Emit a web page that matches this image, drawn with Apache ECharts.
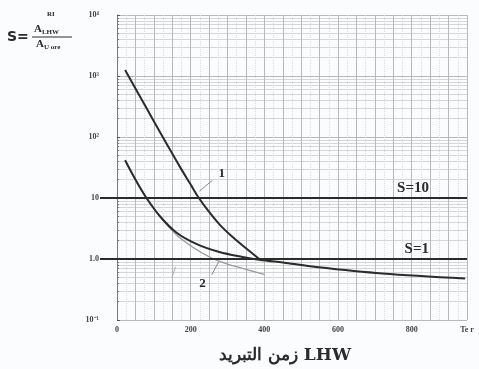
<!DOCTYPE html>
<html>
<head>
<meta charset="utf-8">
<script src="https://cdn.jsdelivr.net/npm/echarts@6/dist/echarts.min.js"></script>
<style>
html, body { margin: 0; padding: 0; background: #fbfcfd; }
#chart1 { width: 479px; height: 369px; }
</style>
</head>
<body>
<div id="chart1"></div>
<script>
// curves: [cooling time, S]
const curve1 = [[22, 1250], [60, 490], [100, 182], [140, 68], [170, 33], [200, 16.6], [219, 10.7], [250, 5.9], [278, 3.7], [310, 2.4], [341, 1.66], [386, 1.0]];
const curve2 = [[22, 41.5], [53, 18.6], [80, 10], [116, 5.07], [161, 2.72], [215, 1.77], [278, 1.3], [341, 1.08], [386, 0.975], [459, 0.86], [540, 0.74], [720, 0.58], [945, 0.48]];
const curve3 = [[22, 41.5], [53, 18.6], [80, 10], [116, 5.0], [161, 2.5], [206, 1.56], [251, 1.08], [296, 0.84], [341, 0.7], [400, 0.56]];
const sLevels = [10, 1];
const sLabels = ['S=10', 'S=1'];
const xMax = 950;
const xLabelStep = 200;
const xEndLabel = 'Te r';
const yTickValues = [0.1, 1, 10, 100, 1000, 10000];
const yTickLabels = ['10⁻¹', '1.0', '10', '10²', '10³', '10⁴'];
const curveNames = ['1', '2'];
const xTitle = 'زمن التبريد LHW';

const chart = echarts.init(document.getElementById('chart1'));
const ink = '#2b2b2b';
const labelFont = 'Liberation Serif';

const option = {
    backgroundColor: '#fbfcfd',
    animation: false,
    grid: [
        { left: 117, right: 12, top: 15, bottom: 49 },
        { left: 100, right: 12, top: 15, bottom: 49 }
    ],
    xAxis: [
        {
            type: 'value', gridIndex: 0, min: 0, max: xMax, interval: 50,
            name: xTitle, nameLocation: 'middle', nameGap: 27,
            nameTextStyle: { fontFamily: 'DejaVu Serif', fontWeight: 'bold', fontSize: 17, color: ink, padding: [0, 14, 0, 0] },
            axisLine: { show: false },
            axisTick: { show: false },
            axisLabel: {
                interval: 0, margin: 6, fontSize: 8, fontWeight: 'bold', fontFamily: labelFont, color: '#444',
                formatter: function (v) {
                    if (v === xMax) return xEndLabel;
                    return v % xLabelStep === 0 ? String(v) : '';
                }
            },
            splitLine: { show: true, lineStyle: { color: '#b9b9b9', width: 1 } },
            minorTick: { show: false, splitNumber: 2 },
            minorSplitLine: { show: true, lineStyle: { color: '#dcdcdc', type: 'dotted', width: 1 } }
        },
        { type: 'value', gridIndex: 1, min: 0, max: 1, show: false }
    ],
    yAxis: [
        {
            type: 'log', gridIndex: 0, logBase: 10, min: 0.1, max: 10000,
            axisLine: { show: true, lineStyle: { color: '#777', width: 1 } },
            axisTick: { show: true, inside: true, length: 3, lineStyle: { color: '#555' } },
            minorTick: { show: true, splitNumber: 9, length: 2, lineStyle: { color: '#777' } },
            axisLabel: {
                margin: 18, fontSize: 8, fontWeight: 'bold', fontFamily: labelFont, color: '#444',
                formatter: function (v) {
                    const i = yTickValues.findIndex(t => Math.abs(Math.log10(t) - Math.log10(v)) < 1e-6);
                    return i >= 0 ? yTickLabels[i] : '';
                }
            },
            splitLine: { show: true, lineStyle: { color: '#b9b9b9', width: 1 } },
            minorSplitLine: { show: true, lineStyle: { color: '#d6d6d6', width: 1 } }
        },
        { type: 'log', gridIndex: 1, logBase: 10, min: 0.1, max: 10000, show: false }
    ],
    graphic: [
        { type: 'text', left: 7, top: 30, style: { text: 'S=', font: 'bold 14px "DejaVu Sans"', fill: ink } },
        { type: 'text', left: 47, top: 11, style: { text: 'RI', font: 'bold 7px "Liberation Serif"', fill: ink } },
        {
            type: 'text', left: 34, top: 24,
            style: {
                text: '{a|A}{s|LHW}',
                rich: { a: { font: 'bold 11px "Liberation Serif"', fill: ink }, s: { font: 'bold 7px "Liberation Serif"', fill: ink, padding: [6, 0, 0, 0] } }
            }
        },
        { type: 'line', shape: { x1: 32, y1: 37, x2: 72, y2: 37 }, style: { stroke: ink, lineWidth: 1 } },
        {
            type: 'text', left: 36, top: 39,
            style: {
                text: '{a|A}{s|U ore}',
                rich: { a: { font: 'bold 11px "Liberation Serif"', fill: ink }, s: { font: 'bold 7px "Liberation Serif"', fill: ink, padding: [6, 0, 0, 0] } }
            }
        }
    ],
    series: [
        {
            name: 'gray', type: 'line', smooth: 0.35, showSymbol: false,
            lineStyle: { color: '#9a9a9a', width: 1.3 },
            data: curve3,
            markLine: {
                silent: true, symbol: 'none',
                lineStyle: { color: '#aaa', width: 1, type: 'solid' },
                label: { show: false },
                data: [[{ coord: [149, 0.5] }, { coord: [159, 0.74] }]]
            }
        },
        {
            name: '2', type: 'line', smooth: 0.35, showSymbol: false,
            lineStyle: { color: ink, width: 2 },
            data: curve2,
            markPoint: {
                symbol: 'circle', symbolSize: 0,
                label: { show: true, fontFamily: labelFont, fontWeight: 'bold', fontSize: 13, color: ink, formatter: curveNames[1] },
                data: [{ coord: [232, 0.4] }]
            },
            markLine: {
                silent: true, symbol: 'none',
                lineStyle: { color: '#888', width: 1, type: 'solid' },
                label: { show: false },
                data: [[{ coord: [257, 0.55] }, { coord: [276, 0.9] }]]
            }
        },
        {
            name: '1', type: 'line', smooth: 0.35, showSymbol: false,
            lineStyle: { color: ink, width: 2 },
            data: curve1,
            markPoint: {
                symbol: 'circle', symbolSize: 0,
                label: { show: true, fontFamily: labelFont, fontWeight: 'bold', fontSize: 13, color: ink, formatter: curveNames[0] },
                data: [{ coord: [284, 25] }]
            },
            markLine: {
                silent: true, symbol: 'none',
                lineStyle: { color: '#888', width: 1, type: 'solid' },
                label: { show: false },
                data: [[{ coord: [259, 19.5] }, { coord: [224, 13] }]]
            }
        },
        {
            name: 'S', type: 'line', xAxisIndex: 1, yAxisIndex: 1, data: [],
            markLine: {
                silent: true, symbol: 'none',
                lineStyle: { color: ink, width: 2, type: 'solid' },
                label: {
                    show: true, position: 'insideEndTop', distance: [38, 2],
                    fontFamily: labelFont, fontWeight: 'bold', fontSize: 15, color: ink,
                    formatter: p => sLabels[p.dataIndex]
                },
                data: sLevels.map(v => ({ yAxis: v }))
            }
        }
    ]
};

chart.setOption(option);
window.addEventListener('resize', function () { chart.resize(); });
</script>
</body>
</html>
